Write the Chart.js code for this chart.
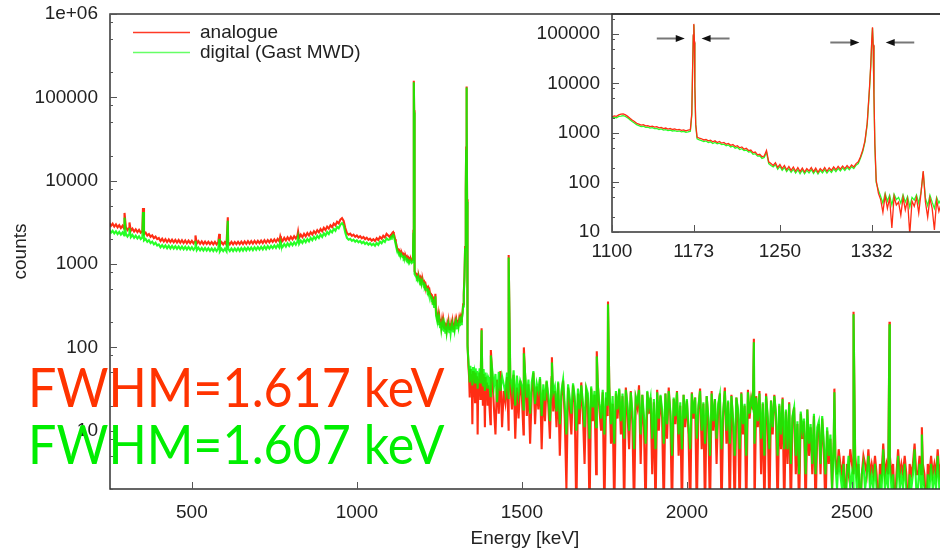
<!DOCTYPE html>
<html>
<head>
<meta charset="utf-8">
<title>Co-60 spectrum: analogue vs digital</title>
<script src="https://cdn.jsdelivr.net/npm/chart.js@4.4.0/dist/chart.umd.min.js"></script>
<style>
  html, body { margin: 0; padding: 0; background: #fff; }
  #wrap { position: relative; width: 940px; height: 550px; overflow: hidden; }
  #mainChart { position: absolute; left: 0; top: 0; }
  #insetChart { position: absolute; left: 520px; top: 0; }
  .fwhm { position: absolute; left: 28px; font-family: Lato, "Noto Sans", sans-serif; font-size: 54px; line-height: 54px; white-space: nowrap; transform: scaleX(0.93); transform-origin: 0 0; }
</style>
</head>
<body>
<div id="wrap">
  <canvas id="mainChart" width="940" height="550"></canvas>
  <canvas id="insetChart" width="420" height="262"></canvas>
  <div class="fwhm" style="top:360px;color:#ff3300">FWHM=1.617 keV</div>
  <div class="fwhm" style="top:417px;color:#00ee00">FWHM=1.607 keV</div>
</div>
<script>
// counts per channel, 5 keV channels from 250 keV
const lowStart = 250, lowStep = 5;
const analogueLow = [
  3120, 2870, 3050, 2810, 2990, 2760, 2930, 2700, 2880, 2650,
  2780, 2560, 2720, 2500, 2660, 2450, 2610, 2420, 2570, 2380,
  2480, 2290, 2380, 2200, 2290, 2120, 2210, 2050, 2130, 1990,
  2050, 1890, 2010, 1860, 1990, 1840, 1970, 1830, 1960, 1820,
  1950, 1810, 1940, 1800, 1930, 1790, 1920, 1780, 1910, 1780,
  1900, 1770, 1890, 1760, 1880, 1750, 1870, 1740, 1860, 1740,
  1850, 1730, 1840, 1720, 1840, 1720, 1830, 1710, 1830, 1720,
  1830, 1710, 1830, 1720, 1840, 1720, 1840, 1730, 1850, 1730,
  1860, 1740, 1870, 1750, 1880, 1760, 1880, 1760, 1890, 1770,
  1900, 1780, 1910, 1790, 1930, 1800, 1940, 1820, 1960, 1840,
  1980, 1850, 2000, 1870, 2030, 1890, 2060, 1920, 2090, 1950,
  2120, 1980, 2160, 2020, 2200, 2060, 2250, 2100, 2300, 2150,
  2350, 2200, 2410, 2260, 2480, 2330, 2550, 2400, 2630, 2470,
  2720, 2560, 2810, 2660, 2920, 2780, 3060, 2910, 3220, 3080,
  3420, 3550, 3300, 2700, 2360, 2250, 2310, 2180, 2250, 2120,
  2200, 2080, 2160, 2040, 2110, 1990, 2070, 1950, 2020, 1910,
  1990, 1890, 2040, 1940, 2110, 2010, 2190, 2090, 2300, 2200
];
const digitalLow = [
  2560, 2380, 2510, 2330, 2470, 2290, 2430, 2250, 2400, 2210,
  2320, 2140, 2280, 2100, 2230, 2060, 2190, 2030, 2150, 1990,
  2080, 1920, 2000, 1850, 1930, 1780, 1860, 1720, 1800, 1670,
  1720, 1590, 1690, 1570, 1670, 1550, 1660, 1540, 1650, 1530,
  1640, 1520, 1630, 1510, 1620, 1500, 1610, 1490, 1600, 1490,
  1590, 1480, 1580, 1470, 1570, 1460, 1560, 1450, 1560, 1450,
  1550, 1440, 1540, 1430, 1540, 1430, 1530, 1420, 1530, 1430,
  1530, 1420, 1530, 1430, 1540, 1430, 1540, 1440, 1550, 1440,
  1560, 1450, 1570, 1460, 1580, 1470, 1580, 1470, 1590, 1480,
  1600, 1490, 1610, 1500, 1630, 1510, 1640, 1530, 1650, 1550,
  1670, 1560, 1690, 1580, 1720, 1600, 1740, 1620, 1770, 1650,
  1800, 1680, 1830, 1710, 1870, 1750, 1910, 1790, 1960, 1830,
  2000, 1870, 2060, 1930, 2120, 1990, 2180, 2050, 2260, 2120,
  2340, 2200, 2420, 2290, 2520, 2400, 2640, 2510, 2790, 2680,
  2960, 3100, 2900, 2380, 2060, 1960, 2010, 1900, 1960, 1850,
  1930, 1820, 1890, 1780, 1850, 1740, 1810, 1710, 1780, 1680,
  1750, 1660, 1790, 1700, 1850, 1770, 1930, 1840, 2030, 1950
];

// finer 2 keV channels around the two Co-60 lines
const fineStart = 1100, fineStep = 2;
const analogueFine = [
  2100, 2200, 2150, 2300, 2380, 2420, 2300, 2150, 1980, 1820,
  1700, 1560, 1500, 1430, 1460, 1380, 1400, 1340, 1370, 1310,
  1330, 1260, 1290, 1220, 1250, 1190, 1230, 1170, 1200, 1150,
  1170, 1120, 1150, 1100, 1130, 1160, 20000, 9000, 820, 780,
  760, 720, 740, 690, 710, 660, 690, 640, 670, 620,
  640, 590, 610, 560, 580, 530, 550, 500, 520, 470,
  490, 440, 450, 400, 410, 360, 370, 330, 340, 440,
  260, 240, 220, 250, 200, 230, 190, 220, 180, 210,
  175, 205, 168, 200, 165, 195, 162, 190, 170, 200,
  165, 195, 160, 190, 170, 200, 168, 198, 175, 205,
  180, 210, 185, 215, 190, 220, 195, 225, 205, 240,
  260, 330, 450, 700, 1600, 8000, 70000, 6000, 110, 60,
  45, 25, 55, 30, 48, 12, 52, 35, 40, 22,
  50, 28, 45, 9, 42, 33, 50, 24, 60, 170,
  40, 20, 48, 30, 11, 44, 26, 38, 20, 35
];
const digitalFine = [
  1980, 2060, 2020, 2150, 2180, 2230, 2140, 2010, 1850, 1700,
  1580, 1460, 1400, 1340, 1360, 1290, 1310, 1250, 1270, 1220,
  1230, 1170, 1200, 1140, 1160, 1110, 1140, 1090, 1110, 1070,
  1090, 1050, 1070, 1030, 1050, 1080, 19000, 8500, 760, 720,
  700, 670, 690, 640, 660, 610, 640, 600, 620, 580,
  590, 550, 570, 520, 540, 490, 510, 460, 480, 440,
  450, 410, 420, 370, 380, 340, 345, 305, 320, 410,
  240, 220, 205, 230, 185, 210, 175, 200, 165, 190,
  160, 185, 155, 180, 150, 178, 150, 175, 155, 182,
  152, 178, 148, 175, 156, 182, 155, 180, 160, 188,
  165, 192, 170, 198, 175, 202, 180, 208, 190, 222,
  240, 310, 420, 660, 1500, 7600, 66000, 5600, 100, 70,
  52, 38, 60, 42, 55, 35, 58, 45, 50, 38,
  56, 40, 52, 32, 50, 44, 56, 38, 62, 160,
  48, 34, 55, 40, 30, 50, 38, 46, 32, 44
];

// 5 keV channels above 1400 keV
const highStart = 1400, highStep = 5;
const analogueHigh = [
  35, 12, 48, 20, 9, 41, 16, 52, 11, 30,
  22, 44, 10, 38, 18, 47, 8, 33, 14, 40,
  26, 9, 45, 15, 36, 7, 29, 50, 12, 34,
  18, 42, 6, 31, 13, 39, 21, 8, 44, 17,
  30, 11, 37, 5, 26, 40, 14, 2, 33, 19,
  9, 35, 22, 1, 28, 12, 38, 16, 4, 30,
  24, 1, 32, 13, 27, 3, 36, 18, 10, 29,
  1, 25, 15, 34, 7, 21, 1, 28, 14, 31,
  9, 26, 1, 33, 17, 6, 30, 12, 1, 24,
  19, 35, 4, 27, 11, 1, 29, 16, 25, 3,
  22, 1, 31, 10, 26, 14, 1, 28, 8, 33,
  15, 1, 24, 12, 30, 5, 20, 1, 27, 11,
  23, 9, 1, 29, 14, 25, 1, 18, 32, 6,
  21, 1, 26, 13, 1, 30, 10, 24, 4, 19,
  28, 1, 15, 33, 7, 22, 1, 27, 12, 1,
  25, 16, 1, 29, 9, 20, 1, 31, 14, 24,
  18, 1, 26, 11, 30, 3, 21, 1, 28, 13,
  1, 23, 9, 27, 15, 1, 20, 6, 25, 1,
  17, 4, 22, 1, 14, 19, 3, 12, 1, 16,
  8, 13, 1, 18, 5, 11, 3, 15, 1, 9,
  12, 3, 14, 6, 1, 10, 4, 8, 2, 7,
  5, 3, 6, 4, 3, 5, 1, 4, 3, 6,
  4, 3, 5, 3, 4, 1, 3, 5, 4, 3,
  6, 3, 4, 3, 5, 3, 1, 4, 3, 7,
  3, 4, 3, 5, 3, 4, 1, 3, 6, 3,
  4, 3, 5, 3, 1, 4, 3, 4, 7, 3,
  3, 5, 3, 4, 3, 1, 4, 3, 5, 3,
  4, 3, 6, 3, 4
];
const digitalHigh = [
  42, 26, 55, 33, 48, 22, 51, 30, 45, 36,
  28, 50, 24, 44, 31, 53, 20, 46, 27, 40,
  35, 18, 47, 25, 41, 16, 38, 52, 21, 37,
  30, 44, 15, 36, 23, 40, 27, 13, 42, 29,
  34, 17, 39, 12, 30, 41, 20, 9, 36, 25,
  16, 37, 26, 10, 32, 18, 35, 22, 11, 33,
  28, 8, 34, 19, 30, 11, 36, 21, 14, 31,
  9, 29, 20, 33, 12, 26, 7, 30, 18, 32,
  13, 28, 8, 31, 21, 10, 29, 17, 6, 26,
  22, 31, 9, 27, 15, 7, 30, 19, 25, 8,
  24, 6, 29, 14, 27, 18, 7, 28, 12, 30,
  17, 5, 25, 15, 29, 9, 22, 6, 27, 14,
  24, 11, 6, 28, 16, 25, 8, 20, 30, 10,
  22, 7, 26, 15, 5, 28, 13, 24, 8, 21,
  27, 6, 17, 30, 10, 23, 7, 26, 14, 5,
  25, 18, 6, 28, 12, 21, 5, 29, 16, 24,
  19, 7, 25, 13, 28, 8, 22, 5, 26, 15,
  6, 23, 11, 26, 16, 5, 21, 9, 24, 6,
  18, 6, 21, 4, 15, 19, 5, 13, 3, 17,
  10, 14, 3, 18, 7, 12, 4, 16, 3, 11,
  13, 4, 15, 7, 3, 11, 5, 9, 2, 8,
  4, 2, 5, 3, 2, 4, 1, 3, 5, 2,
  3, 2, 4, 2, 5, 1, 3, 4, 2, 3,
  5, 2, 3, 2, 4, 2, 1, 3, 2, 6,
  2, 3, 2, 4, 2, 3, 1, 2, 5, 2,
  3, 2, 4, 2, 1, 3, 2, 3, 6, 2,
  2, 4, 2, 3, 2, 1, 3, 2, 4, 2,
  3, 2, 5, 2, 3
];

// sharp gamma lines (energy in keV, counts)
const peakEnergy   = [296, 311, 352, 511, 583, 609, 768, 822, 1171.3, 1172.6, 1173.1, 1173.6, 1174.8, 1331.2, 1332.7, 1333.3, 1334.8, 1406, 1460, 1506, 1591, 1727, 1761, 2203, 2447, 2505, 2614, 2712];
const peakAnalogue = [4100, 3150, 4700, 2200, 2300, 3650, 2150, 2450, 2500, 95000, 158000, 70000, 1500, 25000, 135000, 60000, 600, 93, 1280, 100, 76, 90, 356, 127, 32, 267, 203, 11];
const peakDigital  = [3600, 2700, 4200, 1900, 2000, 3300, 1850, 2100, 2300, 90000, 152000, 66000, 1400, 23000, 131000, 57000, 560, 80, 1200, 85, 66, 78, 330, 115, 29, 250, 190, 9];

const xTicks = [500, 1000, 1500, 2000, 2500];
const yTicks = [10, 100, 1000, 10000, 100000, 1000000];
const yTickLabels = ['10', '100', '1000', '10000', '100000', '1e+06'];
const insetXTicks = [1100, 1173, 1250, 1332];
const insetYTicks = [10, 100, 1000, 10000, 100000];

// FWHM markers in the inset: from energy, to energy, at counts
const arrowFrom = [1140, 1205, 1295, 1370];
const arrowTo   = [1165, 1180, 1321, 1344.5];
const arrowAt   = [82000, 82000, 68000, 68000];

function buildSpectrum(low, fine, high, peaks) {
    const pts = [];
    low.forEach((v, i) => pts.push({ x: lowStart + i * lowStep, y: v }));
    fine.forEach((v, i) => pts.push({ x: fineStart + i * fineStep, y: v }));
    high.forEach((v, i) => pts.push({ x: highStart + i * highStep, y: v }));
    peakEnergy.forEach((e, i) => pts.push({ x: e, y: peaks[i] }));
    pts.sort((a, b) => a.x - b.x);
    return pts;
}

const analoguePoints = buildSpectrum(analogueLow, analogueFine, analogueHigh, peakAnalogue);
const digitalPoints = buildSpectrum(digitalLow, digitalFine, digitalHigh, peakDigital);

const RED = "rgb(255,45,20)";
const GREEN = "rgba(0,255,0,0.85)";
const FONT = { family: '"Liberation Sans", Arial, Helvetica, sans-serif', size: 19 };
const INK = "#222";

// gnuplot-like frame with inward ticks
const framePlugin = {
    id: "frame",
    afterDatasetsDraw(chart, args, opts) {
        const { ctx, chartArea: a, scales } = chart;
        ctx.save();
        ctx.strokeStyle = "#333";
        ctx.lineWidth = 1.5;
        ctx.beginPath();
        ctx.moveTo(a.right + 2, a.top);
        ctx.lineTo(a.left, a.top);
        ctx.lineTo(a.left, a.bottom);
        ctx.lineTo(a.right + 2, a.bottom);
        ctx.stroke();

        ctx.lineWidth = 1;
        ctx.strokeStyle = "#555";
        ctx.beginPath();
        scales.x.ticks.forEach(t => {
            const px = Math.round(scales.x.getPixelForValue(t.value)) + 0.5;
            ctx.moveTo(px, a.bottom);
            ctx.lineTo(px, a.bottom - opts.major);
        });
        scales.y.ticks.forEach(t => {
            const py = Math.round(scales.y.getPixelForValue(t.value)) + 0.5;
            ctx.moveTo(a.left, py);
            ctx.lineTo(a.left + opts.major, py);
        });
        const lo = Math.floor(Math.log10(scales.y.min));
        const hi = Math.ceil(Math.log10(scales.y.max));
        for (let d = lo; d <= hi; d++) {
            [2, 5, 8].forEach(m => {
                const v = m * Math.pow(10, d);
                if (v < scales.y.min || v > scales.y.max) return;
                const py = Math.round(scales.y.getPixelForValue(v)) + 0.5;
                ctx.moveTo(a.left, py);
                ctx.lineTo(a.left + opts.minor, py);
            });
        }
        ctx.stroke();
        ctx.restore();
    }
};

const keyPlugin = {
    id: "insideKey",
    afterDraw(chart) {
        const ctx = chart.ctx;
        const keyColors = ["#ff3a26", "#66ff66"];
        ctx.save();
        ctx.font = `${FONT.size}px ${FONT.family}`;
        ctx.textBaseline = "middle";
        chart.data.datasets.forEach((ds, i) => {
            const y = 32.5 + i * 20;
            ctx.strokeStyle = keyColors[i];
            ctx.lineWidth = 1.5;
            ctx.beginPath();
            ctx.moveTo(133, y);
            ctx.lineTo(190, y);
            ctx.stroke();
            ctx.fillStyle = INK;
            ctx.fillText(ds.label, 200, y);
        });
        ctx.restore();
    }
};

const arrowPlugin = {
    id: "fwhmArrows",
    afterDatasetsDraw(chart) {
        const { ctx, scales: { x, y } } = chart;
        ctx.save();
        arrowFrom.forEach((e0, i) => {
            const x0 = x.getPixelForValue(e0);
            const x1 = x.getPixelForValue(arrowTo[i]);
            const py = Math.round(y.getPixelForValue(arrowAt[i])) + 0.5;
            const dir = Math.sign(x1 - x0);
            ctx.strokeStyle = "#777";
            ctx.lineWidth = 2;
            ctx.beginPath();
            ctx.moveTo(x0, py);
            ctx.lineTo(x1 - dir * 6, py);
            ctx.stroke();
            ctx.fillStyle = "#111";
            ctx.beginPath();
            ctx.moveTo(x1, py);
            ctx.lineTo(x1 - dir * 9, py - 3.5);
            ctx.lineTo(x1 - dir * 9, py + 3.5);
            ctx.closePath();
            ctx.fill();
        });
        ctx.restore();
    }
};

const plainLabel = v => String(v);
// keep the plot frame where gnuplot put it, regardless of label overhang
const noOverhang = s => { s.paddingTop = 0; s.paddingBottom = 0; };

new Chart(document.getElementById("mainChart"), {
    type: "line",
    data: {
        datasets: [
            { label: "analogue", data: analoguePoints, borderColor: RED, borderWidth: 2.1, pointRadius: 0, order: 1 },
            { label: "digital (Gast MWD)", data: digitalPoints, borderColor: GREEN, borderWidth: 2.1, pointRadius: 0, order: 0 }
        ]
    },
    options: {
        responsive: false,
        animation: false,
        layout: { padding: { top: 14, right: 0, bottom: 0, left: 0 } },
        plugins: { legend: { display: false }, tooltip: { enabled: false }, frame: { major: 7, minor: 3 } },
        scales: {
            x: {
                type: "linear",
                min: 252,
                max: 2767,
                grid: { display: false, drawTicks: false },
                border: { display: false },
                afterBuildTicks: s => { s.ticks = xTicks.map(v => ({ value: v })); },
                afterFit: s => { s.height = 61; },
                ticks: { font: FONT, color: INK, padding: 12, maxRotation: 0, autoSkip: false, callback: plainLabel },
                title: { display: true, text: "Energy [keV]", font: FONT, color: INK, padding: { top: 0, bottom: 0 } }
            },
            y: {
                type: "logarithmic",
                min: 2,
                max: 1000000,
                grid: { display: false, drawTicks: false },
                border: { display: false },
                afterBuildTicks: s => { s.ticks = yTicks.map(v => ({ value: v })); },
                afterFit: s => { s.width = 110; noOverhang(s); },
                ticks: {
                    font: FONT, color: INK, padding: 12, autoSkip: false,
                    callback: v => yTickLabels[yTicks.indexOf(v)] ?? ""
                },
                title: { display: true, text: "counts", font: FONT, color: INK, padding: { top: 9, bottom: 0 } }
            }
        }
    },
    plugins: [framePlugin, keyPlugin]
});

new Chart(document.getElementById("insetChart"), {
    type: "line",
    data: {
        datasets: [
            { label: "analogue", data: analoguePoints, borderColor: RED, borderWidth: 1.3, pointRadius: 0 },
            { label: "digital (Gast MWD)", data: digitalPoints, borderColor: GREEN, borderWidth: 1.3, pointRadius: 0 }
        ]
    },
    options: {
        responsive: false,
        animation: false,
        layout: { padding: { top: 14, right: 0, bottom: 0, left: 0 } },
        plugins: { legend: { display: false }, tooltip: { enabled: false }, frame: { major: 7, minor: 3 } },
        scales: {
            x: {
                type: "linear",
                min: 1100,
                max: 1393,
                grid: { display: false, drawTicks: false },
                border: { display: false },
                afterBuildTicks: s => { s.ticks = insetXTicks.map(v => ({ value: v })); },
                afterFit: s => { s.height = 30; },
                ticks: { font: FONT, color: INK, padding: 8, maxRotation: 0, autoSkip: false, callback: plainLabel }
            },
            y: {
                type: "logarithmic",
                min: 10,
                max: 250000,
                grid: { display: false, drawTicks: false },
                border: { display: false },
                afterBuildTicks: s => { s.ticks = insetYTicks.map(v => ({ value: v })); },
                afterFit: s => { s.width = 92; noOverhang(s); },
                ticks: {
                    font: FONT, color: INK, padding: 12, autoSkip: false,
                    callback: v => yTickLabels[yTicks.indexOf(v)] ?? ""
                }
            }
        }
    },
    plugins: [framePlugin, arrowPlugin]
});
</script>
</body>
</html>
